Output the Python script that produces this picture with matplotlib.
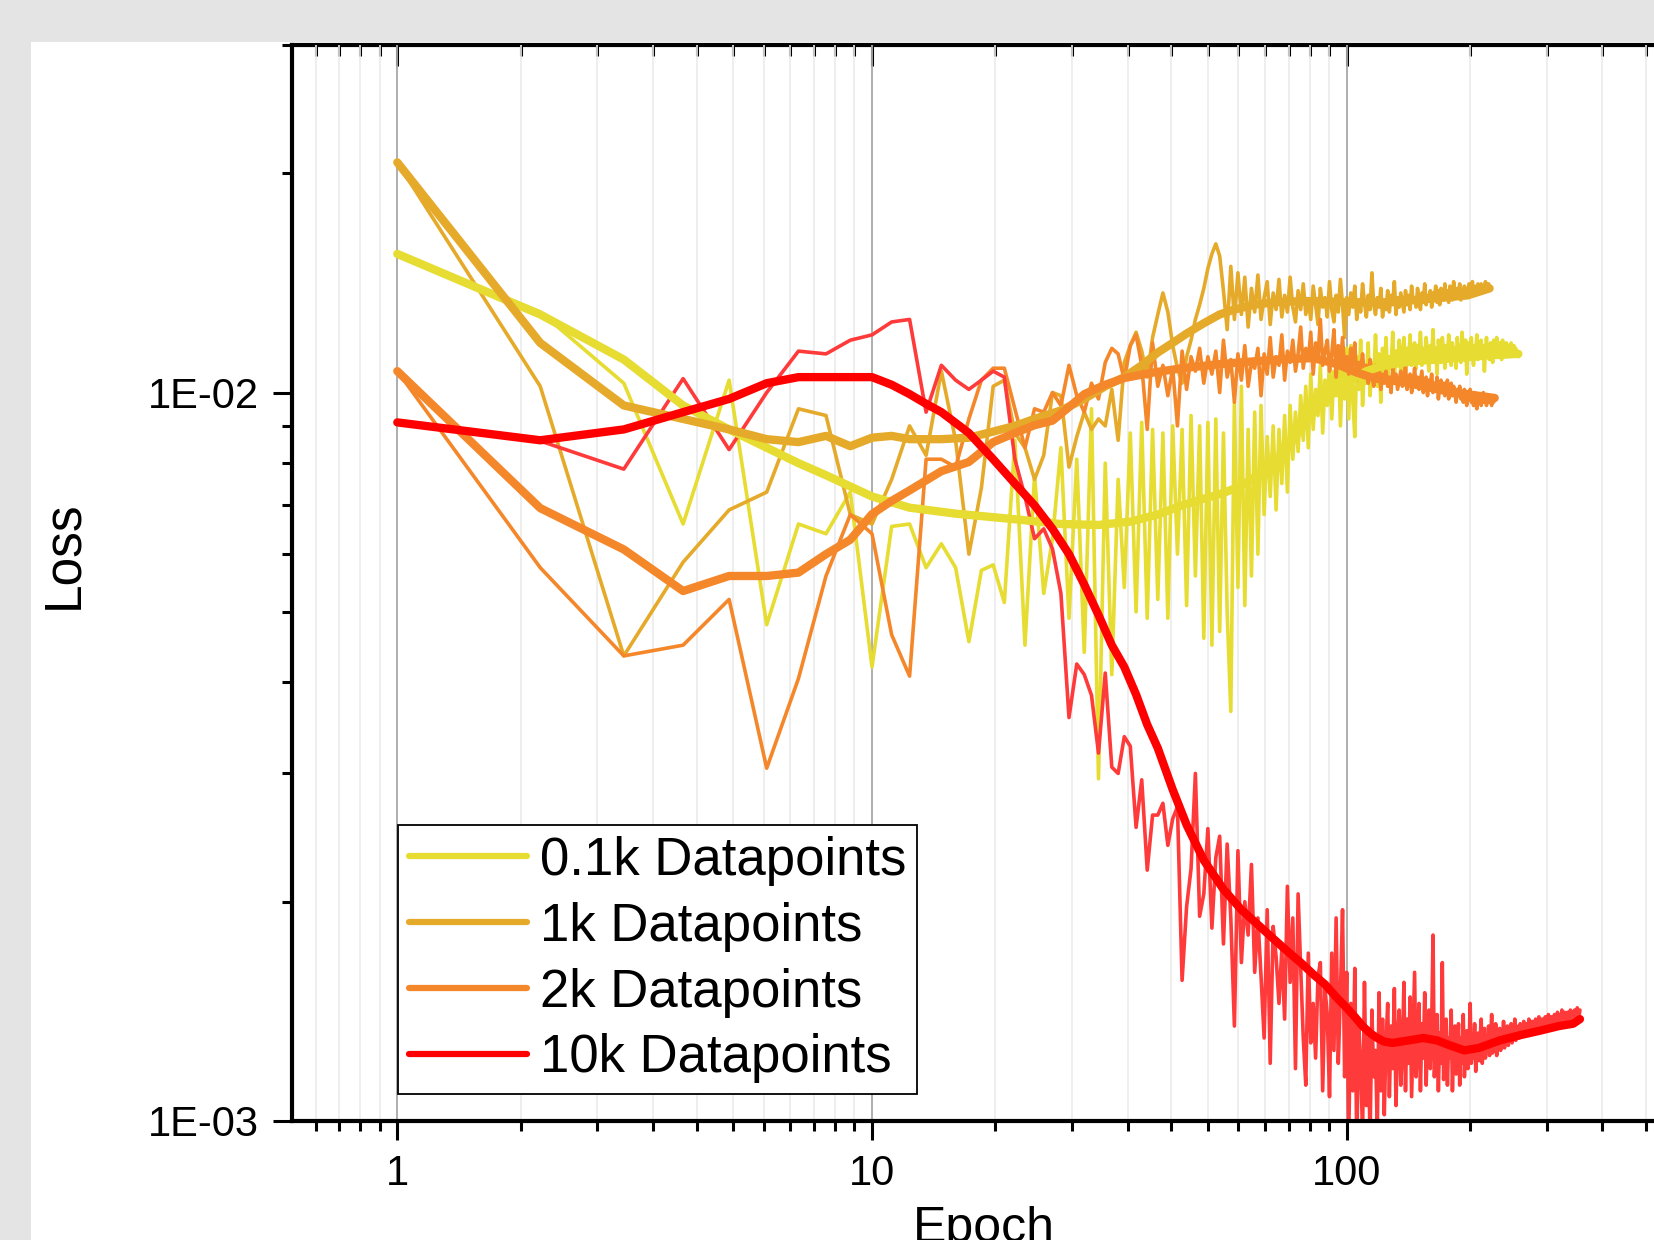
import numpy as np
import matplotlib.pyplot as plt
from matplotlib.ticker import FixedLocator, FuncFormatter, NullFormatter, LogLocator
from matplotlib.patches import Rectangle
from matplotlib.lines import Line2D

plt.rcParams['font.family'] = ['Liberation Sans', 'DejaVu Sans']

# raw loss per epoch (epoch 1, 2, 3, ...), in units of 1e-3
loss_01k = [15.5, 12.9, 10.3, 6.6, 10.4, 4.8, 6.6, 6.4, 7.3, 4.2,
            6.55, 6.6, 5.75, 6.2, 5.75, 4.55, 5.7, 5.8, 5.15, 8.6,
            4.5, 7.7, 5.3, 6.3, 8.4, 4.9, 8.1, 4.4, 9.5, 2.95,
            8.0, 4.1, 7.6, 5.4, 8.8, 5.0, 9.1, 4.9, 8.9, 5.2,
            8.8, 4.9, 9.0, 6.0, 8.9, 5.1, 9.3, 5.6, 9.0, 4.6,
            9.1, 4.5, 9.2, 4.7, 8.8, 5.0, 3.65, 9.7, 5.4, 10.2,
            5.1, 8.9, 5.6, 9.4, 6.0, 9.6, 6.8, 8.7, 7.2, 9.0,
            6.9, 8.9, 7.5, 9.3, 7.3, 9.6, 8.1, 9.4, 8.3, 9.9,
            8.6, 10.2, 8.4, 10.6, 8.9, 10.1, 9.3, 10.9, 8.8, 10.4,
            9.6, 11.0, 9.2, 10.7, 9.9, 11.3, 9.0, 10.8, 9.8, 11.5,
            9.2, 11.6, 9.8, 8.7, 11.2, 10.1, 11.8, 9.6, 10.9, 10.3,
            11.7, 9.9, 11.0, 10.4, 12.0, 10.2, 11.3, 9.7, 11.5, 10.6,
            11.9, 10.5, 11.2, 10.8, 12.1, 10.4, 11.4, 11.0, 11.8, 10.6,
            11.3, 11.9, 10.7, 11.5, 11.1, 12.0, 10.9, 11.4, 11.7, 10.8,
            11.6, 11.2, 12.1, 10.9, 11.5, 11.0, 11.9, 11.3, 10.7, 11.6,
            11.2, 12.2, 11.0, 11.5, 10.6, 11.8, 11.3, 11.0, 11.9, 11.4,
            10.8, 11.6, 11.1, 12.0, 11.4, 10.9, 11.7, 11.2, 11.5, 10.8,
            11.9, 11.3, 11.6, 11.0, 12.1, 11.5, 11.1, 11.8, 10.6, 11.4,
            11.7, 11.2, 11.9, 11.3, 10.9, 11.6, 11.4, 12.0, 11.1, 11.5,
            11.3, 11.8, 11.2, 11.6, 10.7, 11.4, 11.9, 11.3, 11.5, 11.1,
            11.7, 11.4, 11.0, 11.8, 11.5, 11.2, 11.9, 11.6, 11.3, 11.7,
            11.5, 11.1, 11.8, 11.4, 11.6, 11.2, 11.7, 11.5, 11.3, 11.6,
            11.4, 11.7, 11.5, 11.3, 11.6, 11.4, 11.5, 11.3, 11.4, 11.2]

loss_1k = [20.7, 10.2, 4.35, 5.85, 6.9, 7.3, 9.5, 9.3, 6.8, 6.6,
           7.6, 9.0, 8.2, 10.7, 8.6, 6.0, 7.4, 10.2, 10.4, 8.8,
           8.4, 7.6, 8.2, 10.0, 9.9, 7.9, 8.7, 9.4, 8.9, 9.2,
           9.0, 10.1, 8.6, 11.0, 11.6, 12.1, 11.4, 10.5, 11.9, 12.8,
           13.7, 12.9, 11.6, 10.8, 10.3, 11.2, 11.8, 12.6, 13.2, 13.9,
           14.8, 15.5, 16.0, 15.4, 13.8, 12.2, 14.9, 12.6, 14.6, 12.8,
           14.4, 12.3, 13.9, 12.9, 14.5, 12.6, 13.5, 14.2, 12.4, 13.7,
           13.0, 14.3, 12.7, 13.6, 12.9, 14.4, 13.1, 12.5, 13.8, 13.0,
           14.1, 12.8, 13.4, 12.6, 14.0, 13.2, 12.4, 13.9, 13.1, 13.5,
           12.7, 14.2, 13.0, 12.5, 13.6, 12.9, 14.3, 13.2, 11.9, 13.5,
           12.8, 13.7, 13.1, 14.0, 12.6, 13.4, 12.9, 14.1, 13.3, 12.7,
           13.6, 13.0, 14.6, 13.2, 12.8, 13.5, 13.1, 13.9, 12.7, 13.4,
           13.0, 13.8, 12.9, 13.6, 13.2, 14.2, 12.8, 13.5, 13.1, 13.7,
           13.3, 12.9, 13.8, 13.2, 13.6, 13.0, 14.0, 13.3, 13.5, 13.1,
           13.9, 13.4, 13.0, 13.7, 13.3, 14.1, 13.2, 13.6, 13.4, 13.8,
           13.1, 13.7, 13.5, 14.0, 13.3, 13.8, 13.2, 13.9, 13.6, 13.4,
           14.1, 13.5, 13.8, 13.3, 14.0, 13.6, 13.4, 14.2, 13.7, 13.5,
           13.9, 13.6, 14.1, 13.4, 13.8, 13.7, 14.0, 13.5, 13.9, 13.6,
           14.1, 13.7, 13.8, 14.2, 13.6, 13.9, 14.0, 13.7, 14.1, 13.8,
           13.9, 14.1, 13.8, 14.0, 13.9, 14.2, 13.9, 14.0, 14.1, 14.0]

loss_2k = [10.7, 5.75, 4.35, 4.5, 5.2, 3.05, 4.05, 5.6, 6.8, 6.4,
           4.65, 4.08, 8.1, 8.1, 7.9, 9.2, 10.4, 10.8, 10.8, 9.5,
           8.4, 9.5, 9.4, 10.0, 9.6, 10.9, 9.9, 9.4, 10.3, 9.8,
           11.0, 11.5, 11.3, 10.4, 11.6, 12.0, 10.9, 8.9, 11.7, 10.2,
           10.9, 9.9, 10.8, 9.0, 11.4, 10.1, 11.2, 10.7, 11.5, 10.3,
           11.2, 10.6, 11.4, 10.0, 11.8, 10.5, 11.1, 9.7, 11.3, 10.4,
           11.6, 10.2, 11.0, 10.8, 11.5, 9.9, 11.3, 10.6, 11.9, 10.5,
           11.2, 10.9, 12.0, 10.4, 11.4, 11.0, 11.8, 10.7, 11.3, 12.3,
           10.8, 11.5, 11.1, 12.1, 10.6, 11.7, 11.2, 12.6, 10.9, 11.4,
           11.8, 10.7, 11.3, 12.2, 10.5, 11.6, 11.0, 11.9, 10.8, 11.2,
           10.6, 11.5, 10.9, 11.7, 10.4, 11.0, 10.7, 11.3, 10.5, 10.9,
           10.3, 11.1, 10.6, 10.2, 10.9, 10.4, 10.8, 10.1, 10.6, 10.3,
           10.7, 10.2, 10.5, 10.0, 10.8, 10.3, 10.6, 10.1, 10.4, 10.7,
           10.2, 10.5, 10.9, 10.1, 10.4, 10.6, 10.0, 10.3, 10.8, 10.2,
           10.5, 10.1, 10.4, 10.7, 10.0, 10.3, 10.5, 9.9, 10.4, 10.2,
           10.6, 10.0, 10.3, 10.1, 10.5, 9.8, 10.2, 10.4, 10.0, 10.3,
           9.9, 10.2, 10.4, 9.8, 10.1, 10.3, 9.9, 10.2, 10.0, 9.7,
           10.1, 9.9, 10.2, 9.8, 10.0, 9.7, 10.1, 9.9, 9.6, 10.0,
           9.8, 10.1, 9.7, 9.9, 9.6, 10.0, 9.8, 9.5, 9.9, 9.7,
           9.9, 9.6, 9.8, 10.0, 9.7, 9.9, 9.6, 9.8, 9.7, 9.9,
           9.8, 9.6, 9.9, 9.7, 9.8]

loss_10k = [9.1, 8.58, 7.85, 10.45, 8.35, 10.0, 11.4, 11.3, 11.8, 12.0,
            12.5, 12.6, 9.4, 10.9, 10.4, 10.1, 10.4, 10.7, 10.5, 8.1,
            7.2, 6.3, 6.5, 6.1, 5.3, 3.58, 4.24, 4.1, 3.84, 3.2,
            4.12, 3.06, 3.0, 3.37, 3.27, 2.53, 2.94, 2.21, 2.63, 2.63,
            2.73, 2.39, 2.6, 2.7, 1.56, 1.97, 2.22, 3.0, 1.91, 2.05,
            2.52, 1.84, 2.3, 2.46, 1.75, 2.4, 1.9, 1.35, 2.35, 1.65,
            2.0, 1.8, 2.25, 1.6, 1.9, 1.58, 1.3, 1.95, 1.2, 1.85,
            1.68, 1.45, 1.72, 1.38, 2.1, 1.55, 1.9, 1.18, 2.05, 1.62,
            1.3, 1.12, 1.7, 1.28, 1.45, 1.22, 1.58, 1.65, 1.1, 1.52,
            1.4, 1.08, 1.7, 1.25, 1.9, 1.2, 1.5, 1.95, 1.15, 1.6,
            0.95, 1.45, 1.1, 1.62, 0.92, 1.35, 1.2, 0.96, 1.55, 1.05,
            1.3, 0.94, 1.42, 1.15, 1.25, 0.97, 1.5, 1.1, 1.38, 1.02,
            1.28, 1.45, 1.08, 1.35, 1.18, 1.52, 1.05, 1.3, 1.42, 1.12,
            1.25, 1.55, 1.1, 1.38, 1.2, 1.48, 1.08, 1.32, 1.6, 1.15,
            1.28, 1.45, 1.1, 1.36, 1.22, 1.5, 1.12, 1.3, 1.42, 1.18,
            1.35, 1.8, 1.15, 1.28, 1.4, 1.1, 1.32, 1.2, 1.65, 1.14,
            1.26, 1.38, 1.12, 1.3, 1.22, 1.42, 1.1, 1.28, 1.35, 1.16,
            1.24, 1.36, 1.12, 1.3, 1.2, 1.4, 1.15, 1.27, 1.33, 1.18,
            1.25, 1.45, 1.2, 1.3, 1.22, 1.36, 1.17, 1.28, 1.32, 1.21,
            1.29, 1.38, 1.2, 1.27, 1.34, 1.22, 1.3, 1.25, 1.35, 1.23,
            1.28, 1.4, 1.24, 1.31, 1.26, 1.36, 1.23, 1.3, 1.27, 1.34,
            1.25, 1.32, 1.29, 1.37, 1.26, 1.31, 1.28, 1.35, 1.27, 1.33,
            1.29, 1.36, 1.28, 1.32, 1.3, 1.38, 1.29, 1.33, 1.31, 1.35,
            1.3, 1.36, 1.32, 1.34, 1.31, 1.37, 1.33, 1.35, 1.32, 1.36,
            1.33, 1.38, 1.32, 1.35, 1.34, 1.37, 1.33, 1.36, 1.34, 1.38,
            1.34, 1.36, 1.35, 1.39, 1.33, 1.37, 1.35, 1.38, 1.34, 1.36,
            1.36, 1.39, 1.35, 1.37, 1.36, 1.4, 1.35, 1.38, 1.36, 1.39,
            1.36, 1.38, 1.37, 1.4, 1.36, 1.39, 1.37, 1.41, 1.36, 1.38,
            1.37, 1.4, 1.38, 1.42, 1.37, 1.39, 1.38, 1.41, 1.37, 1.4,
            1.38, 1.41, 1.38, 1.4, 1.39, 1.42, 1.38, 1.41, 1.39, 1.4,
            1.39, 1.42, 1.39, 1.41, 1.4, 1.43, 1.39, 1.41, 1.4, 1.42]

# smoothed curves (epoch, loss in 1e-3)
sm_01k_ep = [1, 2, 3, 4, 5, 6, 7, 8, 10, 12, 15, 20, 25, 30, 35, 40, 45, 50, 55, 60,
             65, 70, 75, 80, 85, 90, 100, 110, 120, 140, 170, 200, 230]
sm_01k = [15.5, 12.8, 11.1, 9.6, 8.9, 8.4, 8.0, 7.7, 7.2, 6.95, 6.82, 6.7, 6.6, 6.58, 6.65,
          6.8, 7.0, 7.15, 7.28, 7.45, 7.7, 8.0, 8.4, 8.9, 9.4, 9.8, 10.3, 10.7, 10.9,
          11.05, 11.15, 11.25, 11.3]

sm_1k_ep = [1, 2, 3, 4, 5, 6, 7, 8, 9, 10, 11, 12, 14, 16, 18, 20, 22, 25, 28, 31, 34, 37,
            40, 43, 46, 50, 54, 58, 64, 70, 80, 90, 100, 120, 140, 160, 180, 200]
sm_1k = [20.7, 11.7, 9.6, 9.2, 8.9, 8.63, 8.55, 8.72, 8.44, 8.67, 8.72, 8.63, 8.63, 8.67,
         8.84, 9.0, 9.2, 9.45, 9.8, 10.2, 10.5, 10.9, 11.35, 11.7, 12.05, 12.45, 12.8,
         13.0, 13.2, 13.3, 13.35, 13.35, 13.3, 13.3, 13.4, 13.5, 13.6, 13.9]

sm_2k_ep = [1, 2, 3, 4, 5, 6, 7, 8, 9, 10, 11, 12, 14, 16, 18, 20, 22, 24, 26, 28, 31, 34,
            39, 45, 54, 64, 75, 85, 95, 105, 115, 130, 145, 163, 185, 205]
sm_2k = [10.7, 6.94, 6.09, 5.34, 5.6, 5.6, 5.66, 6.0, 6.28, 6.81, 7.1, 7.34, 7.8, 8.03,
         8.55, 8.8, 9.02, 9.15, 9.55, 9.95, 10.25, 10.47, 10.65, 10.8, 10.94, 11.04,
         11.12, 11.15, 10.95, 10.65, 10.45, 10.35, 10.2, 10.04, 9.92, 9.83]

sm_10k_ep = [1, 2, 3, 4, 5, 6, 7, 8, 9, 10, 11, 12, 13, 14, 16, 18, 20, 22, 24, 26, 28, 30,
             32, 34, 36, 38, 40, 43, 46, 50, 55, 60, 65, 70, 75, 80, 85, 90, 95, 100, 104,
             108, 112, 116, 120, 125, 135, 145, 155, 165, 177, 190, 210, 230, 255, 280,
             300, 310]
sm_10k = [9.1, 8.6, 8.9, 9.4, 9.8, 10.3, 10.5, 10.5, 10.5, 10.5, 10.25, 9.95, 9.65, 9.4,
          8.8, 8.1, 7.5, 7.0, 6.5, 6.0, 5.45, 4.95, 4.5, 4.2, 3.85, 3.5, 3.25, 2.85, 2.55,
          2.28, 2.08, 1.95, 1.86, 1.78, 1.71, 1.65, 1.59, 1.54, 1.48, 1.43, 1.39, 1.35,
          1.32, 1.30, 1.285, 1.28, 1.29, 1.30, 1.29, 1.27, 1.25, 1.26, 1.29, 1.31, 1.33,
          1.35, 1.36, 1.38]

labels = ['0.1k Datapoints', '1k Datapoints', '2k Datapoints', '10k Datapoints']
raw_colors = ['#e6dc32', '#e6aa2a', '#f5872b', '#ff3a3a']
sm_colors = ['#e6dc32', '#e6aa2a', '#f5872b', '#ff0000']

raws = [loss_01k, loss_1k, loss_2k, loss_10k]
smooths = [(sm_01k_ep, sm_01k), (sm_1k_ep, sm_1k), (sm_2k_ep, sm_2k), (sm_10k_ep, sm_10k)]

W, H = 1654, 1240
fig = plt.figure(figsize=(W / 100, H / 100), dpi=100, facecolor='#e4e4e4')
fig.add_artist(Rectangle((31 / W, 0), 1, 1 - 42 / H, transform=fig.transFigure,
                         facecolor='white', edgecolor='none', zorder=-10))

ax = fig.add_axes([292 / W, 119 / H, 1386.5 / W, 1076 / H])
ax.set_xscale('log')
ax.set_yscale('log')

for vals, c in zip(raws, raw_colors):
    ep = np.arange(1, len(vals) + 1)
    ax.plot(ep, np.array(vals) * 1e-3, color=c, lw=2.6,
            solid_joinstyle='round', solid_capstyle='round', zorder=2)

for (ep, vals), c in zip(smooths, sm_colors):
    ax.plot(ep, np.array(vals) * 1e-3, color=c, lw=6,
            solid_joinstyle='round', solid_capstyle='round', zorder=3)

ax.set_xlim(0.6, 500)
ax.set_ylim(1e-3, 0.03)

# Origin-style minor ticks: 10 linear steps inside each decade
minor_x = [d * (1 + 9 * k / 11) for d in [0.1, 1, 10, 100] for k in range(1, 11)]
major_x = [0.1, 1, 10, 100, 1000]

ax.xaxis.set_major_locator(FixedLocator(major_x))
ax.xaxis.set_minor_locator(FixedLocator(minor_x))
ax.xaxis.set_major_formatter(FuncFormatter(lambda v, p: f'{v:g}'))
ax.xaxis.set_minor_formatter(NullFormatter())

ax.yaxis.set_major_locator(FixedLocator([1e-3, 1e-2, 1e-1]))
ax.yaxis.set_minor_locator(LogLocator(base=10, subs=np.arange(2, 10)))
ax.yaxis.set_major_formatter(FuncFormatter(lambda v, p: '1E-%02d' % round(-np.log10(v))))
ax.yaxis.set_minor_formatter(NullFormatter())

ax.tick_params(axis='both', which='major', direction='out', length=14, width=2.2,
               labelsize=30, pad=10, top=False, right=False)
ax.tick_params(axis='both', which='minor', direction='out', length=7, width=2.2,
               top=False, right=False)

ax.grid(True, axis='x', which='major', color='#a8a8a8', lw=1.3, zorder=0)
ax.grid(True, axis='x', which='minor', color='#ebebeb', lw=1.2, zorder=0)
ax.grid(False, axis='y', which='both')
ax.set_axisbelow(True)

for s in ['left', 'bottom']:
    ax.spines[s].set_linewidth(3)
ax.spines['right'].set_visible(False)
ax.spines['top'].set_visible(False)

top = ax.secondary_xaxis('top')
top.xaxis.set_major_locator(FixedLocator(major_x))
top.xaxis.set_minor_locator(FixedLocator(minor_x))
top.xaxis.set_major_formatter(NullFormatter())
top.xaxis.set_minor_formatter(NullFormatter())
top.tick_params(which='major', direction='in', length=15, width=2.2, labeltop=False)
top.tick_params(which='minor', direction='in', length=8, width=2.2)
top.spines['top'].set_linewidth(3)

ax.set_xlabel('Epoch', fontsize=36)
ax.xaxis.set_label_coords(0.499, -0.079)
ax.set_ylabel('Loss', fontsize=37)
ax.yaxis.set_label_coords(-0.1471, 0.526)

handles = [Line2D([], [], color=c, lw=4.5, solid_capstyle='round') for c in sm_colors]
leg = ax.legend(handles, labels, loc='lower left', bbox_to_anchor=(398 / W, 146 / H),
                bbox_transform=fig.transFigure, fontsize=38, frameon=True, fancybox=False,
                edgecolor='black', framealpha=1, borderaxespad=0, borderpad=0.2,
                labelspacing=0.3, handlelength=2.25, handletextpad=0.25)
leg.get_frame().set_linewidth(1.3)

fig.savefig('out.png', dpi=100, facecolor=fig.get_facecolor())
